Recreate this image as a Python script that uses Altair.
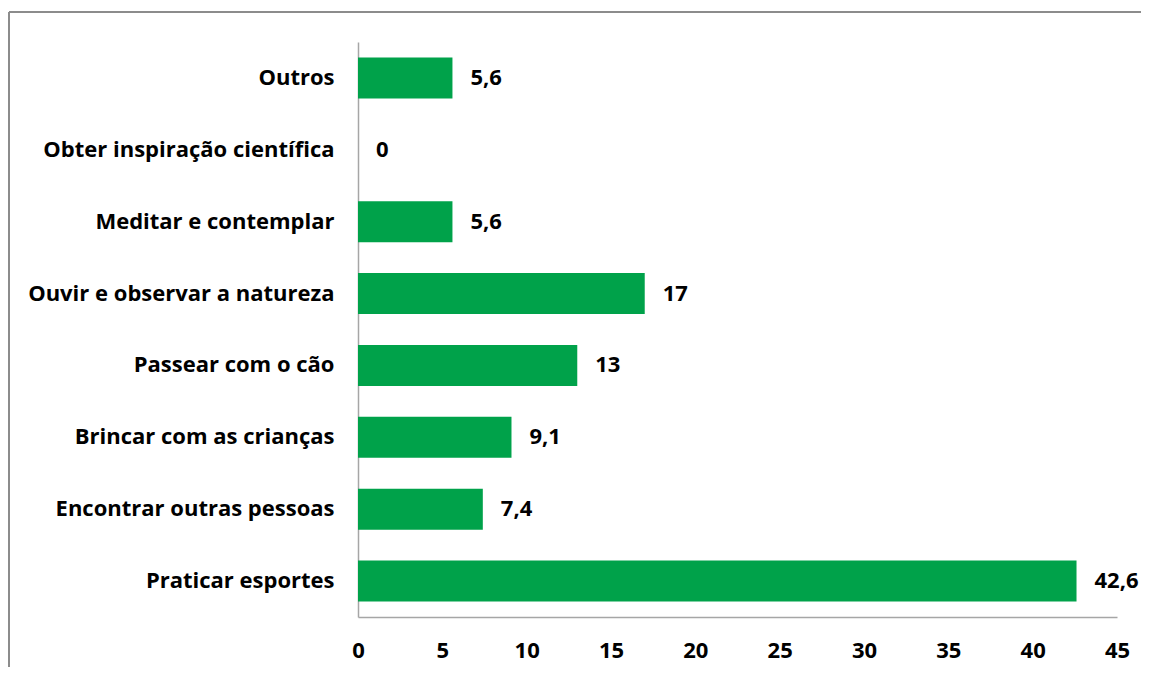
import altair as alt
import pandas as pd

categories = [
    "Outros",
    "Obter inspiração científica",
    "Meditar e contemplar",
    "Ouvir e observar a natureza",
    "Passear com o cão",
    "Brincar com as crianças",
    "Encontrar outras pessoas",
    "Praticar esportes",
]
values = [5.6, 0, 5.6, 17, 13, 9.1, 7.4, 42.6]
x_ticks = [0, 5, 10, 15, 20, 25, 30, 35, 40, 45]

def fmt(v):
    s = ("%g" % v)
    return s.replace(".", ",")

df = pd.DataFrame({"cat": categories, "val": values, "lab": [fmt(v) for v in values]})

FONT = "Open Sans"
FS = 22
W, H = 759, 575

base = alt.Chart(df)

bars = base.mark_bar(color="#00A24A").encode(
    y=alt.Y("cat:N", sort=categories, title=None,
            scale=alt.Scale(paddingInner=0.43, paddingOuter=0.215),
            axis=alt.Axis(labelFont=FONT, labelFontSize=FS, labelFontWeight="bold",
                          labelColor="#000000", ticks=False, domainColor="#A6A6A6",
                          domainWidth=1.5, labelPadding=24, labelLimit=400)),
    x=alt.X("val:Q", title=None,
            scale=alt.Scale(domain=[0, 45], nice=False),
            axis=alt.Axis(values=x_ticks, grid=False, ticks=False, labelFont=FONT,
                          labelFontSize=FS, labelFontWeight="bold", labelColor="#000000",
                          domainColor="#A6A6A6", domainWidth=1.5, labelPadding=23,
                          labelFlush=False)),
)

labels = base.mark_text(align="left", baseline="middle", dx=18, font=FONT,
                        fontSize=FS, fontWeight="bold", color="#000000").encode(
    y=alt.Y("cat:N", sort=categories),
    x=alt.X("val:Q"),
    text="lab:N",
)

left_border = alt.Chart(df).mark_rule(color="#8C8C8C", strokeWidth=1.5, clip=False).encode(
    x=alt.value(-349), y=alt.value(-30), y2=alt.value(H + 60)
)
top_border = alt.Chart(df).mark_rule(color="#8C8C8C", strokeWidth=1.5, clip=False).encode(
    x=alt.value(-349), x2=alt.value(W + 24), y=alt.value(-30)
)

chart = alt.layer(bars, labels, left_border, top_border).properties(
    width=W, height=H,
    padding={"left": 350, "top": 34, "right": 24, "bottom": 50},
    autosize=alt.AutoSizeParams(type="none"),
    background="#FFFFFF",
).configure_view(stroke=None, strokeWidth=0)

chart.save("out.html", embed_options={"renderer": "svg", "actions": False})
